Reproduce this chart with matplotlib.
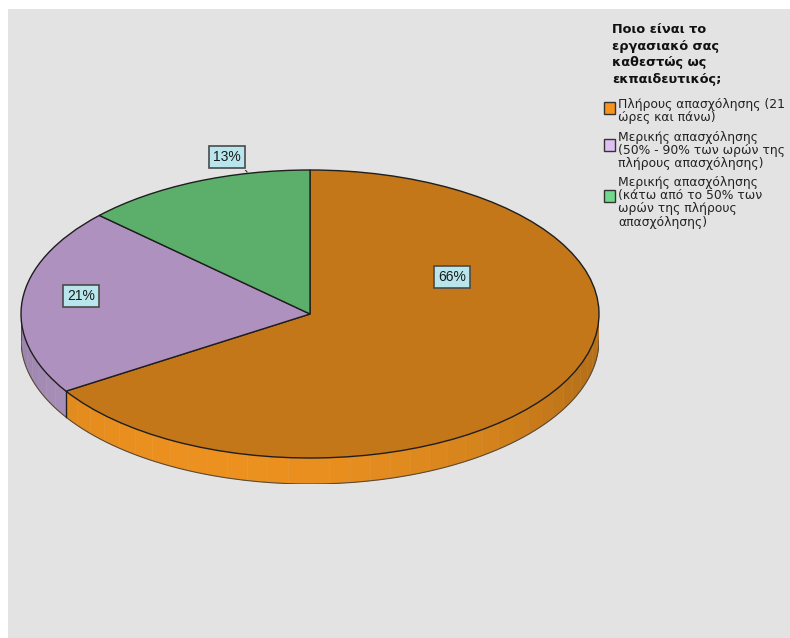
import matplotlib
matplotlib.use('Agg')
import matplotlib.pyplot as plt
import matplotlib.patches as mpatches
import numpy as np

# Employment status of teachers (percent of respondents)
categories = [
    'Πλήρους απασχόλησης (21\nώρες και πάνω)',
    'Μερικής απασχόλησης\n(50% - 90% των ωρών της\nπλήρους απασχόλησης)',
    'Μερικής απασχόλησης\n(κάτω από το 50% των\nωρών της πλήρους\nαπασχόλησης)',
]
percents = [66, 21, 13]
legend_title = 'Ποιο είναι το\nεργασιακό σας\nκαθεστώς ως\nεκπαιδευτικός;'

top_colors = ['#C47719', '#AE91BE', '#5BAF6A']
side_colors = ['#EC911F', '#B096C2', '#5BAF6A']
legend_colors = ['#F7941E', '#DFC0F2', '#6FD98C']

W, H = 790, 638
fig = plt.figure(figsize=(W / 100, H / 100), dpi=100)
fig.patch.set_facecolor('white')
fig.add_artist(mpatches.Rectangle((8 / W, 0), 1 - 8 / W, (H - 9) / H,
                                  transform=fig.transFigure,
                                  facecolor='#E3E3E3', edgecolor='none', zorder=0))

# pie axes: x spans the ellipse, y leaves room for the rim below
cx, cy, rx, ry, depth = 310, 314, 289, 144, 26
ylo = -(ry + depth) / ry
ax = fig.add_axes([(cx - rx) / W, (H - cy - ry - depth) / H,
                   2 * rx / W, (ry * 2 + depth) / H])
ax.patch.set_alpha(0)

wedges, _ = ax.pie(percents, colors=top_colors, startangle=90, counterclock=False,
                   radius=1, center=(0, 0),
                   wedgeprops=dict(edgecolor='#1E1E1E', linewidth=1.0))
for w in wedges:
    w.set_zorder(3)
ax.set_aspect('auto')
ax.set_xlim(-1, 1)
ax.set_ylim(ylo, 1)
ax.axis('off')

d = depth / ry

# rim of the pie on the front half
cum = np.concatenate([[0], np.cumsum(percents)]) / sum(percents)
for i in range(len(percents)):
    a_start = 90 - 360 * cum[i + 1]
    a_end = 90 - 360 * cum[i]
    lo, hi = max(a_start, -180), min(a_end, 0)
    if lo >= hi:
        continue
    steps = np.linspace(lo, hi, max(2, int((hi - lo) / 4) + 1))
    base = np.array(matplotlib.colors.to_rgb(side_colors[i]))
    for a0, a1 in zip(steps[:-1], steps[1:]):
        mid = np.radians((a0 + a1) / 2)
        shade = 0.78 + 0.22 * max(0.0, np.cos(mid - np.radians(-110)))
        t = np.radians(np.linspace(a0, a1, 5))
        xs = np.concatenate([np.cos(t), np.cos(t[::-1])])
        ys = np.concatenate([np.sin(t), np.sin(t[::-1]) - d])
        ax.fill(xs, ys, color=np.clip(base * shade, 0, 1), lw=0.3,
                ec=np.clip(base * shade, 0, 1), zorder=2)

# rim outlines
t = np.radians(np.linspace(-180, 0, 200))
ax.plot(np.cos(t), np.sin(t) - d, color='#5A4A3A', lw=0.8, zorder=2.5)
ax.plot([-1, -1], [0, -d], color='#555555', lw=0.8, zorder=2.5)
ax.plot([1, 1], [0, -d], color='#555555', lw=0.8, zorder=2.5)
for c in cum[1:-1]:
    a = np.radians(90 - 360 * c)
    if np.sin(a) < 0:
        ax.plot([np.cos(a)] * 2, [np.sin(a), np.sin(a) - d], color='#1E1E1E',
                lw=1.0, zorder=2.6)

# percentage labels
label_pos = [(452, 277), (81, 296), (227, 157)]
for p, (px, py) in zip(percents, label_pos):
    ax.text((px - cx) / rx, (cy - py) / ry, f'{p}%', fontsize=10,
            family='Liberation Sans', ha='center', va='center', color='#1A1A1A',
            zorder=5,
            bbox=dict(boxstyle='square,pad=0.3', fc='#B8E6EC', ec='#4A4A4A', lw=1.2))
# leader from the small slice label to the rim
ax.plot([(243 - cx) / rx, (247 - cx) / rx], [(cy - 167) / ry, (cy - 172) / ry],
        color='#333333', lw=0.8, zorder=4)

# legend
fig.text(612 / W, 1 - 23 / H, legend_title, fontsize=9.3, fontweight='bold',
         family='DejaVu Sans', va='top', ha='left', linespacing=1.36,
         color='#111111')
item_top = [98, 131, 176]
box_center = [108, 145, 196]
for lab, col, top, bc in zip(categories, legend_colors, item_top, box_center):
    fig.add_artist(mpatches.Rectangle((604 / W, 1 - (bc + 5.5) / H), 11 / W, 11 / H,
                                      transform=fig.transFigure, facecolor=col,
                                      edgecolor='#333333', lw=1.0))
    fig.text(618 / W, 1 - top / H, lab, fontsize=8.9, family='DejaVu Sans',
             va='top', ha='left', linespacing=1.02, color='#222222')

fig.savefig('out.png', dpi=100)
